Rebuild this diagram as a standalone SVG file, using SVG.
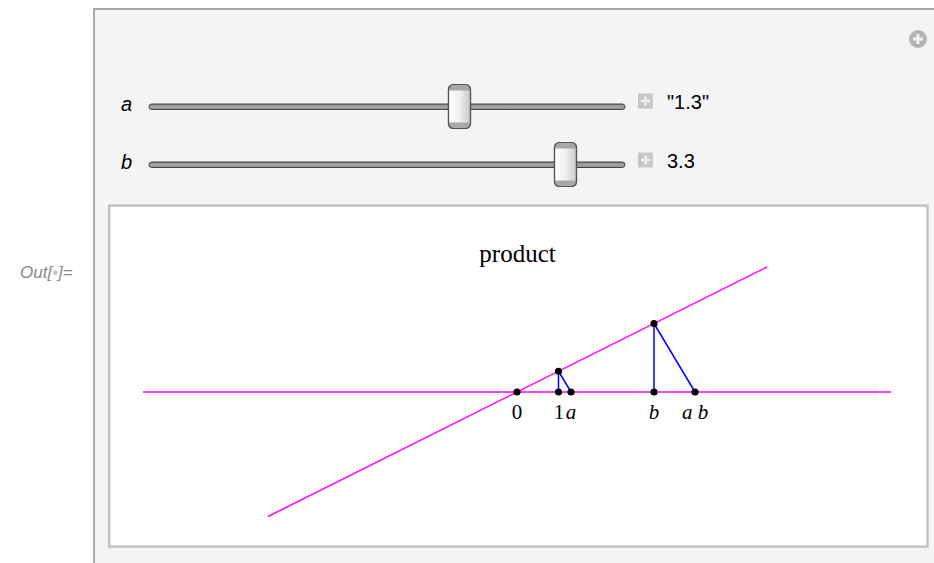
<svg xmlns="http://www.w3.org/2000/svg" width="934" height="563" viewBox="0 0 934 563">
<defs>
<linearGradient id="thumbG" x1="0" y1="0" x2="1" y2="0">
<stop offset="0" stop-color="#ffffff"/>
<stop offset="0.5" stop-color="#f0f0f0"/>
<stop offset="1" stop-color="#c8c8c8"/>
</linearGradient>
<linearGradient id="trackG" x1="0" y1="0" x2="0" y2="1">
<stop offset="0" stop-color="#7a7a7a"/>
<stop offset="0.5" stop-color="#a8a8a8"/>
<stop offset="1" stop-color="#8a8a8a"/>
</linearGradient>
<g id="thumb">
<rect x="-11" y="-22" width="22" height="44" rx="5" fill="url(#thumbG)" stroke="#555" stroke-width="1.2"/>
<path d="M-10.4,-16 V-17 a4.6,4.6 0 0 1 4.6,-4.6 H5.8 a4.6,4.6 0 0 1 4.6,4.6 V-16 Z" fill="#a8a8a8"/>
<path d="M-10.4,16 V17 a4.6,4.6 0 0 0 4.6,4.6 H5.8 a4.6,4.6 0 0 0 4.6,-4.6 V16 Z" fill="#a8a8a8"/>
<rect x="-11" y="-22" width="22" height="44" rx="5" fill="none" stroke="#555" stroke-width="1.2"/>
</g>
<g id="plusbox">
<rect x="-7.5" y="-7.5" width="15" height="15" fill="#c8c8c8"/>
<path d="M-4.5,0 H4.5 M0,-4.5 V4.5" stroke="#eeeeee" stroke-width="2.6"/>
</g>
</defs>
<style>
.lbl{font-family:"Liberation Sans",Arial,sans-serif;font-size:20px;fill:#000}
.ital{font-style:italic}
.serif{font-family:"Liberation Serif","Times New Roman",serif;fill:#000}
.mag{stroke:#ff00ff;stroke-width:1.5;fill:none}
.blue{stroke:#0000ff;stroke-width:1.5;fill:none}
.pt{fill:#000}
.track{fill:url(#trackG);stroke:#444;stroke-width:1}
</style>
<rect x="0" y="0" width="934" height="563" fill="#ffffff"/>
<text x="20" y="278" font-family="'Liberation Sans',Arial,sans-serif" font-size="17" font-style="italic" fill="#8a8a8a">Out[<tspan fill="#c4c4c4">•</tspan>]=</text>
<g id="panel">
<rect x="94" y="9" width="860" height="580" fill="#f4f4f4" stroke="#aaaaaa" stroke-width="2"/>
<g id="addbtn">
<circle cx="918" cy="39" r="9" fill="#b4b4b4"/>
<path d="M913,39 H923 M918,34 V44" stroke="#f4f4f4" stroke-width="2.8"/>
</g>
</g>
<g id="slider-a">
<text class="lbl ital" x="121" y="111">a</text>
<rect class="track" x="149" y="104" width="476" height="5.5" rx="2.75"/>
<use href="#thumb" x="459.5" y="106.5"/>
<use href="#plusbox" x="645.5" y="101"/>
<text class="lbl" x="667" y="109">"1.3"</text>
</g>
<g id="slider-b">
<text class="lbl ital" x="121" y="169">b</text>
<rect class="track" x="149" y="162" width="476" height="5.5" rx="2.75"/>
<use href="#thumb" x="565.5" y="164.5"/>
<use href="#plusbox" x="645.5" y="160"/>
<text class="lbl" x="667" y="168">3.3</text>
</g>
<g id="plot">
<rect x="109.2" y="205.6" width="818.3" height="341" fill="#ffffff" stroke="#c3c3c3" stroke-width="2.5"/>
<text class="serif" x="517.5" y="262" font-size="25" text-anchor="middle">product</text>
<g id="connectors">
<line class="mag" x1="143" y1="392" x2="891" y2="392"/>
<line class="mag" x1="268" y1="516.5" x2="767" y2="267"/>
<line class="blue" x1="558.5" y1="371.25" x2="558.5" y2="392"/>
<line class="blue" x1="558.5" y1="371.25" x2="571" y2="392"/>
<line class="blue" x1="654" y1="323.5" x2="654" y2="392"/>
<line class="blue" x1="654" y1="323.5" x2="695" y2="392"/>
</g>
<g id="points">
<circle class="pt" cx="517" cy="392" r="3.6"/>
<circle class="pt" cx="558.5" cy="392" r="3.6"/>
<circle class="pt" cx="571" cy="392" r="3.6"/>
<circle class="pt" cx="558.5" cy="371.25" r="3.6"/>
<circle class="pt" cx="654" cy="392" r="3.6"/>
<circle class="pt" cx="654" cy="323.5" r="3.6"/>
<circle class="pt" cx="695" cy="392" r="3.6"/>
</g>
<g id="ticklabels" font-size="21">
<text class="serif" x="517" y="419" text-anchor="middle">0</text>
<text class="serif" x="559" y="419" text-anchor="middle">1</text>
<text class="serif" x="571" y="419" text-anchor="middle" font-style="italic">a</text>
<text class="serif" x="654" y="419" text-anchor="middle" font-style="italic">b</text>
<text class="serif" x="695" y="419" text-anchor="middle" font-style="italic">a b</text>
</g>
</g>
</svg>
